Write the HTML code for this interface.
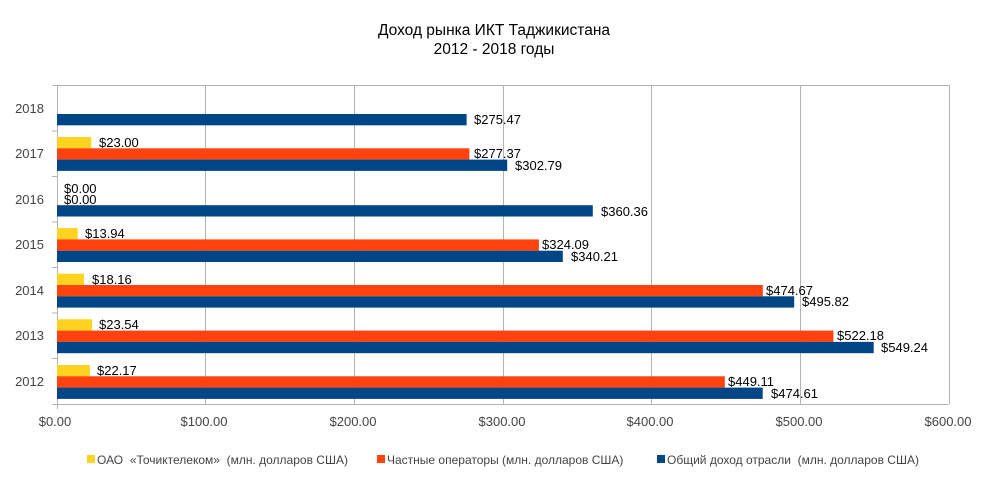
<!DOCTYPE html>
<html><head><meta charset="utf-8"><style>
body{margin:0;background:#fff;}
svg text{font-family:"Liberation Sans",sans-serif;}
</style></head><body>
<svg width="988" height="475" xmlns="http://www.w3.org/2000/svg">
<rect width="988" height="475" fill="#fff"/>
<text x="494" y="35" font-size="15.5" text-anchor="middle" fill="#000">Доход рынка ИКТ Таджикистана</text>
<text x="494" y="54" font-size="15.5" text-anchor="middle" fill="#000">2012 - 2018 годы</text>
<g stroke="#b3b3b3" stroke-width="1">
<line x1="57.5" y1="85" x2="57.5" y2="409"/>
<line x1="205.5" y1="85" x2="205.5" y2="404"/>
<line x1="354.5" y1="85" x2="354.5" y2="404"/>
<line x1="503.5" y1="85" x2="503.5" y2="404"/>
<line x1="651.5" y1="85" x2="651.5" y2="404"/>
<line x1="800.5" y1="85" x2="800.5" y2="404"/>
<line x1="949.5" y1="85" x2="949.5" y2="404"/>
<line x1="52" y1="85.5" x2="949" y2="85.5"/>
<line x1="52" y1="404.5" x2="949" y2="404.5"/>
<line x1="52" y1="131" x2="57" y2="131"/>
<line x1="52" y1="176.5" x2="57" y2="176.5"/>
<line x1="52" y1="222" x2="57" y2="222"/>
<line x1="52" y1="267.5" x2="57" y2="267.5"/>
<line x1="52" y1="313" x2="57" y2="313"/>
<line x1="52" y1="358.5" x2="57" y2="358.5"/>
</g>
<g font-size="13" fill="#444" text-anchor="end">
<text x="44" y="113">2018</text><text x="44" y="158">2017</text><text x="44" y="204">2016</text>
<text x="44" y="249">2015</text><text x="44" y="295">2014</text><text x="44" y="340">2013</text><text x="44" y="386">2012</text>
</g>
<g font-size="13" fill="#444" text-anchor="middle">
<text x="55" y="426">$0.00</text><text x="204" y="426">$100.00</text><text x="353" y="426">$200.00</text>
<text x="502" y="426">$300.00</text><text x="650" y="426">$400.00</text><text x="799" y="426">$500.00</text><text x="948" y="426">$600.00</text>
</g>
<g>
<rect x="57" y="114" width="409.6" height="11.3" fill="#004586"/>
<rect x="57" y="137" width="34.2" height="11.3" fill="#ffd320"/>
<rect x="57" y="148.3" width="412.4" height="11.3" fill="#ff420e"/>
<rect x="57" y="159.6" width="450.2" height="11.3" fill="#004586"/>
<rect x="57" y="205.2" width="535.8" height="11.3" fill="#004586"/>
<rect x="57" y="228.1" width="20.7" height="11.3" fill="#ffd320"/>
<rect x="57" y="239.4" width="481.9" height="11.3" fill="#ff420e"/>
<rect x="57" y="250.7" width="505.8" height="11.3" fill="#004586"/>
<rect x="57" y="273.7" width="27" height="11.3" fill="#ffd320"/>
<rect x="57" y="285" width="705.8" height="11.3" fill="#ff420e"/>
<rect x="57" y="296.3" width="737.2" height="11.3" fill="#004586"/>
<rect x="57" y="319.3" width="35" height="11.3" fill="#ffd320"/>
<rect x="57" y="330.6" width="776.4" height="11.3" fill="#ff420e"/>
<rect x="57" y="341.9" width="816.7" height="11.3" fill="#004586"/>
<rect x="57" y="365" width="33" height="11.3" fill="#ffd320"/>
<rect x="57" y="376.3" width="667.8" height="11.3" fill="#ff420e"/>
<rect x="57" y="387.6" width="705.7" height="11.3" fill="#004586"/>
</g>
<g font-size="13" fill="#000">
<text x="474" y="124">$275.47</text>
<text x="99" y="147">$23.00</text><text x="474" y="158">$277.37</text><text x="515" y="170">$302.79</text>
<text x="64" y="193">$0.00</text><text x="64" y="204">$0.00</text><text x="601" y="216">$360.36</text>
<text x="85" y="238">$13.94</text><text x="542" y="249">$324.09</text><text x="571" y="261">$340.21</text>
<text x="92" y="284">$18.16</text><text x="766" y="295">$474.67</text><text x="802" y="306">$495.82</text>
<text x="99" y="329">$23.54</text><text x="837" y="340">$522.18</text><text x="881" y="352">$549.24</text>
<text x="97" y="375">$22.17</text><text x="728" y="386">$449.11</text><text x="771" y="398">$474.61</text>
</g>
<g font-size="12" fill="#444">
<rect x="87" y="455" width="8" height="8" fill="#ffd320"/>
<text x="97" y="464" xml:space="preserve">ОАО  «Точиктелеком»  (млн. долларов США)</text>
<rect x="377" y="455" width="8" height="8" fill="#ff420e"/>
<text x="387" y="464">Частные операторы (млн. долларов США)</text>
<rect x="657" y="455" width="8" height="8" fill="#004586"/>
<text x="667" y="464" xml:space="preserve">Общий доход отрасли  (млн. долларов США)</text>
</g>
</svg>
</body></html>
